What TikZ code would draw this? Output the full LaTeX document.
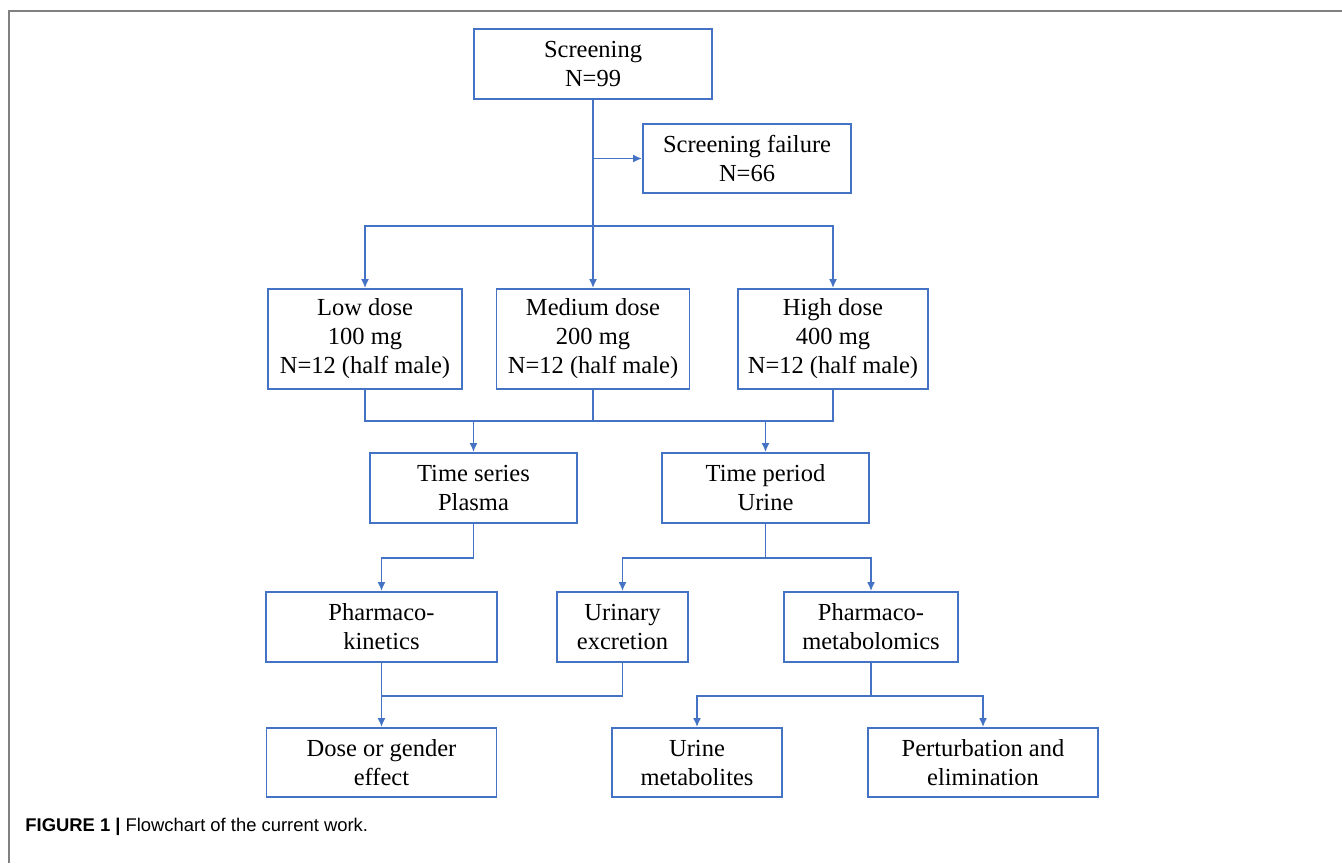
\documentclass[tikz,border=0pt]{standalone}
\usepackage{fontspec}
\setmainfont{Liberation Serif}
\newfontfamily\capfont{Liberation Sans}
\usepackage{tikz}
\usetikzlibrary{positioning,arrows.meta,calc}
\definecolor{FlowBlue}{RGB}{68,114,196}
\definecolor{FrameGray}{RGB}{128,128,128}

\begin{document}
\begin{tikzpicture}[
  x=0.5pt, y=-0.5pt,
  >={Latex[length=4.5pt,width=4pt]},
  box/.style={
    rectangle, draw=FlowBlue, line width=0.9pt, fill=white,
    inner sep=0pt, align=center, minimum height=35pt,
    font=\fontsize{12.25}{14.5}\selectfont
  },
  link/.style={draw=FlowBlue, line width=0.9pt},
  arrow/.style={->, draw=FlowBlue, line width=0.9pt}
]
\useasboundingbox (0,0) rectangle (1342,863);

% --- FRAME ---
\draw[FrameGray, line width=1pt] (9,863) -- (9,11) -- (1342,11);

% --- SCREENING ---
\node[box, minimum width=119pt] (screen) at (593,64) {Screening\\N=99};
\node[box, minimum width=104pt, minimum height=34.5pt] (fail) at (747,158.5) {Screening failure\\N=66};

% --- DOSE GROUPS ---
\node[box, minimum width=97pt, minimum height=50pt] (low) at (365,339) {Low dose\\100 mg\\N=12 (half male)};
\node[box, minimum width=96.5pt, minimum height=50pt] (medium) at (593,339) {Medium dose\\200 mg\\N=12 (half male)};
\node[box, minimum width=95pt, minimum height=50pt] (high) at (833,339) {High dose\\400 mg\\N=12 (half male)};

% --- SAMPLES ---
\node[box, minimum width=103.5pt] (series) at (473.5,488) {Time series\\Plasma};
\node[box, minimum width=103.5pt] (period) at (765.5,488) {Time period\\Urine};

% --- ANALYSES ---
\node[box, minimum width=115.5pt] (pk) at (381.5,627) {Pharmaco-\\kinetics};
\node[box, minimum width=65.5pt] (excretion) at (622.5,627) {Urinary\\excretion};
\node[box, minimum width=87pt] (pm) at (871,627) {Pharmaco-\\metabolomics};

% --- OUTCOMES ---
\node[box, minimum width=115pt, minimum height=34.5pt] (effect) at (381.5,762.5) {Dose or gender\\effect};
\node[box, minimum width=85pt, minimum height=34.5pt] (metab) at (697,762.5) {Urine\\metabolites};
\node[box, minimum width=115pt, minimum height=34.5pt] (elim) at (983,762.5) {Perturbation and\\elimination};

% --- junctions ---
\coordinate (split) at (593,226);
\coordinate (merge) at (593,421);
\coordinate (plasma) at (473.5,558);
\coordinate (urine) at (765.5,558);
\coordinate (join) at (381.5,696);
\coordinate (fork) at (871,696);

% --- connectors ---
\draw[link] (screen.south) -- (split);
\draw[arrow] (screen.south |- fail.west) -- (fail.west);
\draw[arrow] (split) -| (low.north);
\draw[arrow] (split) -- (medium.north);
\draw[arrow] (split) -| (high.north);

\draw[link] (low.south) |- (merge) -| (high.south);
\draw[link] (medium.south) -- (merge);
\draw[arrow] (series.north |- merge) -- (series.north);
\draw[arrow] (period.north |- merge) -- (period.north);

\draw[arrow] (series.south) -- (plasma) -| (pk.north);
\draw[link] (period.south) -- (urine);
\draw[arrow] (urine) -| (excretion.north);
\draw[arrow] (urine) -| (pm.north);

\draw[link] (excretion.south) |- (join);
\draw[arrow] (pk.south) -- (effect.north);
\draw[link] (pm.south) -- (fork);
\draw[arrow] (fork) -| (metab.north);
\draw[arrow] (fork) -| (elim.north);

% --- CAPTION ---
\node[anchor=west, inner sep=0pt, font=\capfont\fontsize{9.2}{11}\selectfont] (caption) at (25,827)
  {\textbf{FIGURE 1 |} Flowchart of the current work.};

\end{tikzpicture}
\end{document}
